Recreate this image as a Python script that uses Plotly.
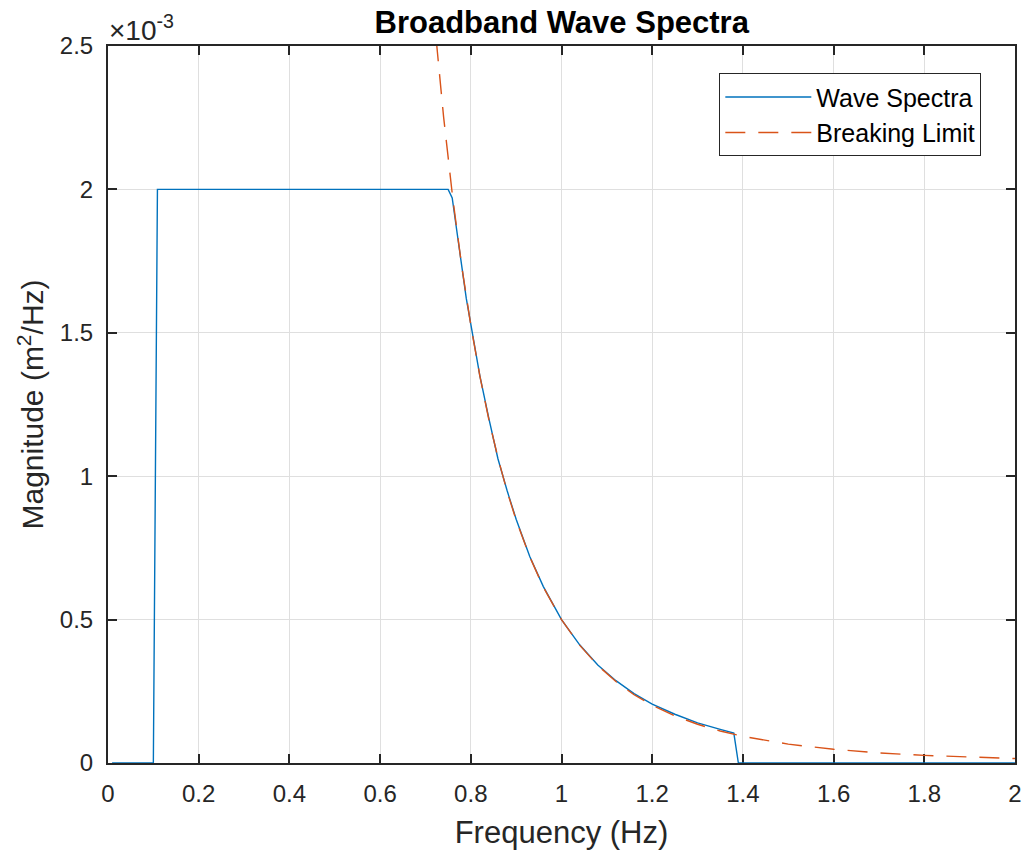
import plotly.graph_objects as go

# Data (magnitudes in units of 1e-3 m^2/Hz)
spec_freq = [0.009, 0.100, 0.109, 0.750, 0.759, 0.77, 0.78, 0.79, 0.80, 0.82, 0.84, 0.86,
             0.88, 0.90, 0.93, 0.96, 1.00, 1.04, 1.08, 1.12, 1.16, 1.20, 1.25, 1.30,
             1.35, 1.38, 1.39, 2.00]
spec_mag = [0.0, 0.0, 2.0, 2.0, 1.97, 1.85, 1.73, 1.62, 1.53, 1.35, 1.20, 1.06,
            0.95, 0.85, 0.72, 0.615, 0.50, 0.412, 0.342, 0.287, 0.242, 0.205, 0.170, 0.140,
            0.117, 0.104, 0.0, 0.0]

brk_freq = [0.70, 0.72, 0.74, 0.76, 0.78, 0.80, 0.82, 0.84, 0.86, 0.88, 0.90, 0.93,
            0.96, 1.00, 1.04, 1.08, 1.12, 1.16, 1.20, 1.25, 1.30, 1.35, 1.40, 1.50,
            1.60, 1.70, 1.80, 1.90, 2.00]
brk_mag = [2.975, 2.584, 2.253, 1.972, 1.732, 1.526, 1.349, 1.196, 1.063, 0.947, 0.847, 0.719,
           0.613, 0.500, 0.411, 0.340, 0.284, 0.238, 0.201, 0.164, 0.135, 0.1115, 0.093, 0.0658,
           0.0477, 0.0352, 0.0265, 0.0202, 0.0156]

x_ticks = [0, 0.2, 0.4, 0.6, 0.8, 1.0, 1.2, 1.4, 1.6, 1.8, 2.0]
x_labels = ["0", "0.2", "0.4", "0.6", "0.8", "1", "1.2", "1.4", "1.6", "1.8", "2"]
y_ticks = [0, 0.5, 1.0, 1.5, 2.0, 2.5]
y_labels = ["0", "0.5", "1", "1.5", "2", "2.5"]

FONT = "Liberation Sans, Arial, sans-serif"
AX = "#262626"

fig = go.Figure()
fig.add_trace(go.Scatter(x=spec_freq, y=spec_mag, mode="lines", name="Wave Spectra",
                         line=dict(color="#0072BD", width=1.4)))
fig.add_trace(go.Scatter(x=brk_freq, y=brk_mag, mode="lines", name="Breaking Limit",
                         line=dict(color="#D95319", width=1.4, dash="20px,13px")))

axis_common = dict(showline=True, linecolor=AX, linewidth=2, mirror="ticks",
                   ticks="inside", ticklen=9, tickwidth=2, tickcolor=AX,
                   showgrid=True, gridcolor="#dfdfdf", gridwidth=1.2,
                   zeroline=False, tickfont=dict(family=FONT, size=24, color=AX),
                   layer="below traces", automargin=False, ticklabelstandoff=8)

fig.update_layout(
    width=1026, height=856,
    margin=dict(l=108, r=10.5, t=46, b=93),
    paper_bgcolor="white", plot_bgcolor="white",
    title=dict(text="<b>Broadband Wave Spectra</b>", x=0.5475, xanchor="center",
               y=1 - 22 / 856, yanchor="middle",
               font=dict(family=FONT, size=31, color="black")),
    xaxis=dict(range=[0, 2], tickvals=x_ticks, ticktext=x_labels,
               title=dict(text="Frequency (Hz)", font=dict(family=FONT, size=31, color=AX),
                          standoff=16),
               **axis_common),
    yaxis=dict(range=[0, 2.5], tickvals=y_ticks, ticktext=y_labels,
               title=dict(text="Magnitude (m<sup>2</sup>/Hz)",
                          font=dict(family=FONT, size=30, color=AX), standoff=7),
               **axis_common),
    legend=dict(x=0.674, y=0.962, xanchor="left", yanchor="top",
                bgcolor="white", bordercolor="#262626", borderwidth=1,
                font=dict(family=FONT, size=25, color="black"),
                itemwidth=86, tracegroupgap=0),
    showlegend=True,
)

fig.add_annotation(text="\u00d710<sup>-3</sup>", xref="paper", yref="paper",
                   x=0, y=1, xanchor="left", yanchor="bottom", showarrow=False,
                   font=dict(family=FONT, size=28, color=AX), xshift=-1, yshift=-2)

fig.write_html("out.html", config={"displayModeBar": False},
               post_script="document.body.style.margin='0';document.body.style.overflow='hidden';")
